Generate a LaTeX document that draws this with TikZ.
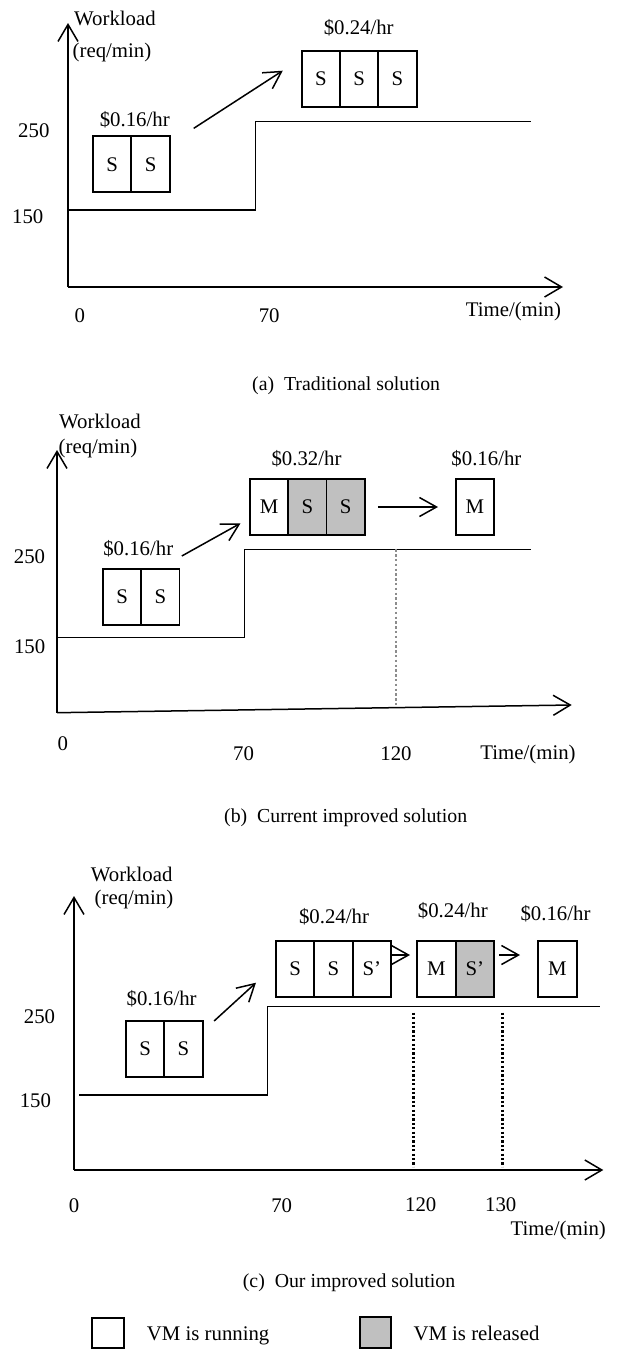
\documentclass[tikz,border=0pt]{standalone}
\usepackage{fontspec}
\setmainfont{Liberation Serif}
\usepackage{tikz}
\usetikzlibrary{arrows.meta, positioning}
\definecolor{released}{RGB}{192,192,192}
\definecolor{dotgray}{RGB}{140,140,140}

\begin{document}
\begin{tikzpicture}[
    x=1pt, y=-1pt,
    font=\fontsize{20.8}{25}\selectfont,
    vm/.style={rectangle, draw, line width=1.9pt, minimum width=38.3pt, minimum height=56pt, inner sep=0pt, outer sep=0pt},
    gone/.style={vm, fill=released},
    txt/.style={anchor=base, inner sep=0pt},
    subcap/.style={anchor=base west, inner sep=0pt, font=\fontsize{19.8}{24}\selectfont},
    axis/.style={line width=1.5pt, -{Straight Barb[length=17pt, width=20pt]}},
    wl/.style={line width=1.4pt},
    arrow/.style={line width=1.5pt, -{Straight Barb[length=17pt, width=19pt]}},
    cutline/.style={line width=2.8pt, dash pattern=on 2.2pt off 2.2pt}
]
\useasboundingbox (0,0) rectangle (616,1349);

% (a) traditional
\coordinate (oa) at (68,287);
\coordinate (ya) at (68,23);
\coordinate (xa) at (563,287);
\draw[axis] (oa) -- (ya);
\draw[axis] (oa) -- (xa);
\node[txt] (wla) at (115,25) {Workload};
\node[txt] (rqa) at (112,57) {(req/min)};
\node[txt] (ha1) at (33.8,137) {250};
\node[txt] (ha2) at (27.7,223) {150};
\node[txt] (ta0) at (79.8,322) {0};
\node[txt] (ta1) at (269.2,322) {70};
\node[txt] (tma) at (513.4,316) {Time/(min)};
\draw[wl] (68,210) -| (255.4,121.7) -- (530.5,121.7);

\node[vm] (a1) at (112.25,164.35) {S};
\node[vm, right=0pt of a1] (a2) {S};
\node[txt] (pa1) at (134.8,126) {\$0.16/hr};
\node[vm] (a3) at (320.9,78.7) {S};
\node[vm, right=0pt of a3] (a4) {S};
\node[vm, right=0pt of a4] (a5) {S};
\node[txt] (pa2) at (358.7,34) {\$0.24/hr};
\draw[arrow] ([shift={(24,-8)}]a2.north east) -- ([shift={(-19,-36)}]a3.south west);

\node[subcap] (capa) at (252,390) {(a)\ \ Traditional solution};

% (b) current improved
\coordinate (ob) at (57,712.7);
\coordinate (yb) at (57,450);
\coordinate (xb) at (571.7,705);
\draw[axis] (ob) -- (yb);
\draw[axis] (ob) -- (xb);
\node[txt] (wlb) at (100,428.5) {Workload};
\node[txt] (rqb) at (98,453.5) {(req/min)};
\node[txt] (hb1) at (29.5,563.7) {250};
\node[txt] (hb2) at (29.7,653.7) {150};
\node[txt] (tb0) at (62.9,750.3) {0};
\node[txt] (tb1) at (243.6,760.3) {70};
\node[txt] (tb2) at (396,760.3) {120};
\node[txt] (tmb) at (528,759) {Time/(min)};
\draw[wl] (57,637.7) -| (244.4,549.3) -- (530.5,549.3);
\draw[cutline, dotgray, line width=2.6pt, dash pattern=on 2.4pt off 2.4pt] (396,549.3) -- (396,707.6);

\node[vm] (b1) at (122.05,597) {S};
\node[vm, right=0pt of b1] (b2) {S};
\node[txt] (pb1) at (138.3,555.3) {\$0.16/hr};
\node[vm] (b3) at (269.05,507) {M};
\node[gone, right=0pt of b3] (b4) {S};
\node[gone, right=0pt of b4] (b5) {S};
\node[txt] (pb2) at (306.5,465.3) {\$0.32/hr};
\node[vm] (b6) at (474.85,507) {M};
\node[txt] (pb3) at (486.4,465.3) {\$0.16/hr};
\draw[arrow] ([shift={(2.3,-13)}]b2.north east) -- ([shift={(-9.4,-11.7)}]b3.south west);
\draw[arrow] ([xshift=13pt]b5.east) -- ([xshift=-17.7pt]b6.west);

\node[subcap] (capb) at (224,822) {(b)\ \ Current improved solution};

% (c) our improved
\coordinate (oc) at (74,1170);
\coordinate (yc) at (74,896);
\coordinate (xc) at (603.3,1170);
\draw[axis] (oc) -- (yc);
\draw[axis] (oc) -- (xc);
\node[txt] (wlc) at (131.7,881) {Workload};
\node[txt] (rqc) at (134,904.5) {(req/min)};
\node[txt] (hc1) at (39.5,1023.7) {250};
\node[txt] (hc2) at (35.4,1107) {150};
\node[txt] (tc0) at (74,1212) {0};
\node[txt] (tc1) at (281.7,1212) {70};
\node[txt] (tc2) at (420.7,1211) {120};
\node[txt] (tc3) at (500.7,1211) {130};
\node[txt] (tmc) at (558.3,1235) {Time/(min)};
\draw[wl] (79,1095) -| (267.7,1006.7) -- (600,1006.7);
\draw[cutline] (413.3,1012.7) -- (413.3,1166.7);
\draw[cutline] (502.7,1012.7) -- (502.7,1166.7);

\node[vm] (c1) at (145.15,1049) {S};
\node[vm, right=0pt of c1] (c2) {S};
\node[txt] (pc1) at (161.7,1005.3) {\$0.16/hr};
\node[vm] (c3) at (295.15,968.7) {S};
\node[vm, right=0pt of c3] (c4) {S};
\node[vm, right=0pt of c4] (c5) {S’};
\node[txt] (pc2) at (334,923.7) {\$0.24/hr};
\node[vm] (c6) at (436.45,968.7) {M};
\node[gone, right=0pt of c6] (c7) {S’};
\node[txt] (pc3) at (452.8,917) {\$0.24/hr};
\node[vm] (c8) at (557.45,968.7) {M};
\node[txt] (pc4) at (555.5,920.3) {\$0.16/hr};
\draw[arrow] ([xshift=11.5pt]c2.north east) -- ([shift={(-20,-14)}]c3.south west);
\draw[arrow] ([shift={(1,-13.7)}]c5.east) -- ([shift={(-7.3,-13.7)}]c6.west);
\draw[arrow] ([shift={(5.3,-13.7)}]c7.east) -- ([shift={(-18.3,-13.7)}]c8.west);

\node[subcap] (capc) at (242.7,1287) {(c)\ \ Our improved solution};

% legend
\node[vm, minimum width=32pt, minimum height=30pt] (lrun) at (107.85,1333) {};
\node[txt, anchor=base west] (trun) at (146.7,1340) {VM is running};
\node[gone, minimum width=31pt, minimum height=31pt] (lrel) at (375.35,1332.2) {};
\node[txt, anchor=base west] (trel) at (413.3,1340) {VM is released};
\end{tikzpicture}
\end{document}
